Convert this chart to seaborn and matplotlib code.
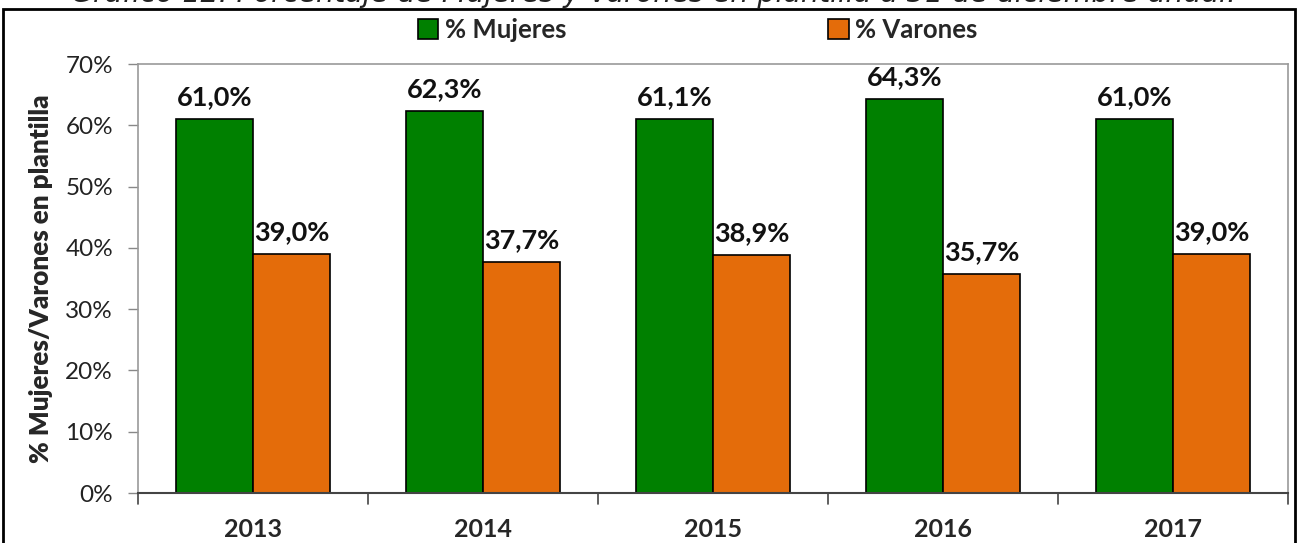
import pandas as pd
import matplotlib.pyplot as plt
import matplotlib.patches as mpatches
from matplotlib.ticker import FuncFormatter
import seaborn as sns

years = ['2013', '2014', '2015', '2016', '2017']
mujeres = [61.0, 62.3, 61.1, 64.3, 61.0]
varones = [39.0, 37.7, 38.9, 35.7, 39.0]
series = ['% Mujeres', '% Varones']
colors = ['#008000', '#E46C0A']

df = pd.DataFrame({
    'year': years * 2,
    'serie': [series[0]] * len(years) + [series[1]] * len(years),
    'pct': mujeres + varones,
})

sns.set_theme(style='white')
plt.rcParams['font.family'] = ['Lato', 'DejaVu Sans']

fig = plt.figure(figsize=(12.99, 5.43), dpi=100)
ax = fig.add_axes([138 / 1299, 1 - 493 / 543, 1150 / 1299, 429 / 543])

sns.barplot(data=df, x='year', y='pct', hue='serie', palette=colors,
            width=0.667, gap=0, dodge=True, ax=ax, legend=False,
            edgecolor='black', linewidth=1.2, saturation=1)

ax.set_ylim(0, 70)
ax.set_xlim(-0.5, 4.5)
ax.set_yticks(range(0, 71, 10))
ax.yaxis.set_major_formatter(FuncFormatter(lambda v, p: f'{v:.0f}%'))
ax.tick_params(axis='y', labelsize=17.5, length=7, width=1, color='#888888',
               direction='out', left=True, pad=11, labelcolor='#222222')
ax.set_xticks([0, 1, 2, 3, 4])
ax.set_xticklabels(years, fontsize=18, fontweight='bold')
ax.tick_params(axis='x', length=0, pad=18)
# category boundary ticks
for b in [-0.5, 0.5, 1.5, 2.5, 3.5, 4.5]:
    ax.plot([b, b], [0, -1.8], color='#444444', lw=1.2, clip_on=False)

ax.set_xlabel('')
ax.set_ylabel('% Mujeres/Varones en plantilla', fontsize=18.7, fontweight='heavy',
              labelpad=9)

for side in ['left', 'top', 'right']:
    ax.spines[side].set_color('#9a9a9a')
    ax.spines[side].set_linewidth(1.2)
ax.spines['bottom'].set_color('#444444')
ax.spines['bottom'].set_linewidth(1.5)

# value labels
for cont in ax.containers:
    ax.bar_label(cont, labels=[f'{v:.1f}%'.replace('.', ',') for v in cont.datavalues],
                 padding=7, fontsize=19.5, fontweight='bold', color='#111111')

# legend on top
handles = [mpatches.Patch(facecolor=c, edgecolor='black', lw=1.2) for c in colors]
leg = fig.legend(handles, series, loc='center', bbox_to_anchor=(0.537, 0.945),
                 ncol=2, frameon=False, columnspacing=10.2,
                 handlelength=0.8, handleheight=0.8, handletextpad=0.25,
                 prop={'weight': 'bold', 'size': 18.5})

# outer chart border
fig.patches.append(mpatches.Rectangle((3 / 1299, -0.02), 1292 / 1299, 1.02 - 9 / 543,
                                      transform=fig.transFigure, fill=False,
                                      edgecolor='black', lw=2))

# title (cut by the top edge, as in the source)
fig.text(0.503, 1 - 2.5 / 543, 'Gráfico 12. Porcentaje de Mujeres y Varones en plantilla a 31 de diciembre anual.',
         ha='center', va='baseline', fontsize=20.5, style='italic', color='#222222',
         family=['DejaVu Sans'])

fig.savefig('out.png', dpi=100)
